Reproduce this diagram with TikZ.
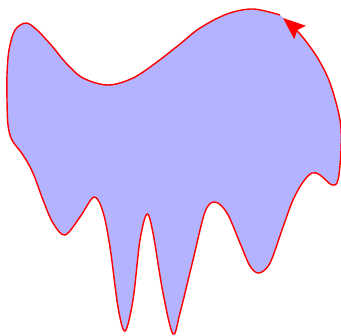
\documentclass[tikz,border=0pt]{standalone}
\usetikzlibrary{arrows.meta}
\definecolor{blobfill}{HTML}{B3B3FF}
\definecolor{blobline}{HTML}{FF0000}

\begin{document}
\begin{tikzpicture}[x=0.03cm,y=-0.03cm,>={Stealth[length=19pt,width=15pt,inset=3pt]}]
  \useasboundingbox (0,0) rectangle (341,335);
  \draw[blobline,line width=1.2pt,fill=blobfill,->]
    plot[smooth,tension=0.55] coordinates {
      (280,15) (253,9) (227,14) (200,28) (180,44) (157,62) (133,78)
      (108,85) (83,78) (66,63) (52,46) (37,30) (26,23) (15,30) (9,50)
      (7,75) (7,100) (8,125) (12,140) (23,155) (33,173) (43,200)
      (53,223) (65,235) (80,217) (94,197) (103,212) (110,247)
      (118,307) (125,331) (133,300) (140,240) (147,214) (153,233)
      (163,293) (173,334) (180,313) (193,260) (205,212) (215,202)
      (227,213) (240,243) (250,266) (259,273) (270,263) (283,227)
      (293,200) (303,182) (312,173) (320,175) (332,185) (338,180)
      (341,150) (340,120) (330,83) (317,57) (300,34) (283,18)
    };
\end{tikzpicture}
\end{document}
